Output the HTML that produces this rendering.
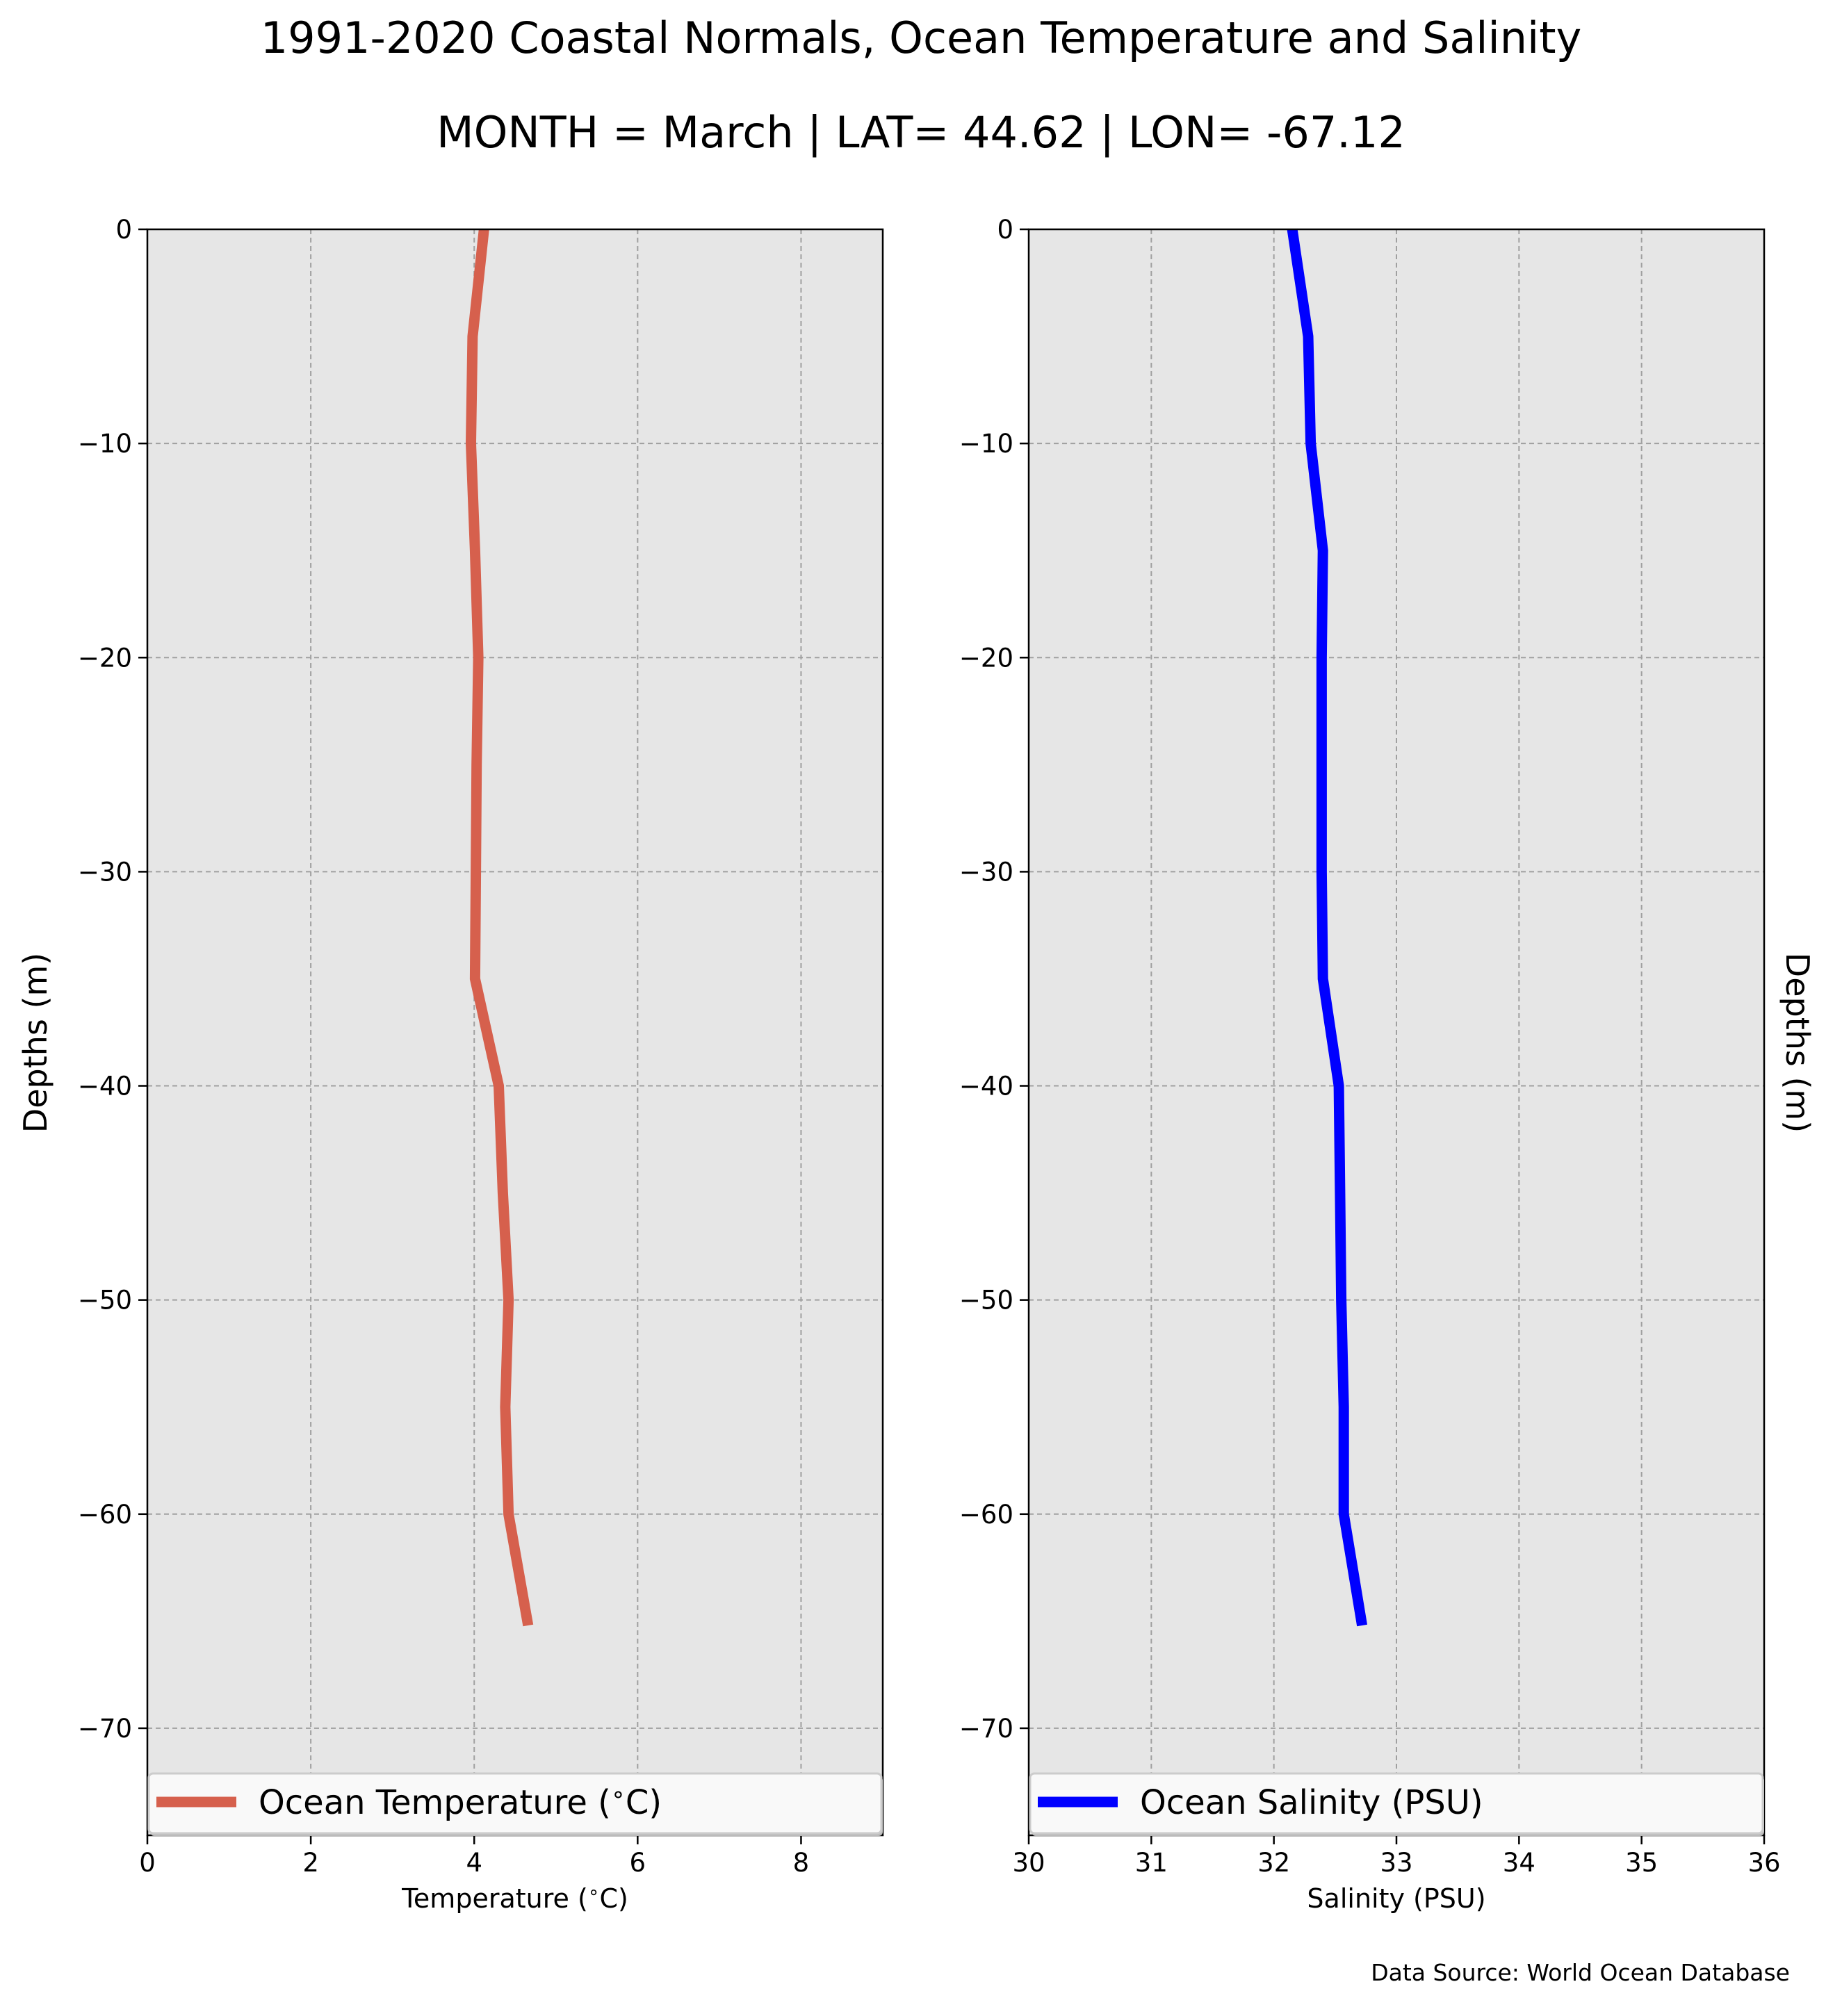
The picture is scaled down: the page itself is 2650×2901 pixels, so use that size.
<!DOCTYPE html>
<html><head><meta charset="utf-8"><style>
body{margin:0;background:#fff;}
svg{display:block;font-family:"DejaVu Sans","Liberation Sans",sans-serif;}
</style></head><body>
<svg id="fig" width="2650" height="2901" viewBox="0 0 2650 2901" xmlns="http://www.w3.org/2000/svg">
<text x="1325" y="76" font-size="62" text-anchor="middle">1991-2020 Coastal Normals, Ocean Temperature and Salinity</text>
<text x="1325" y="212" font-size="62" text-anchor="middle">MONTH = March | LAT= 44.62 | LON= -67.12</text>
<text x="2575" y="2850" font-size="33" text-anchor="end">Data Source: World Ocean Database</text>
<g id="left"></g>
<g id="right"></g>
</svg>
<script>
const depths = [0,-5,-10,-15,-20,-25,-30,-35,-40,-45,-50,-55,-60,-65.2];
const temperature = [4.12,3.98,3.96,4.01,4.05,4.03,4.02,4.01,4.3,4.35,4.42,4.38,4.42,4.66];
const salinity = [32.15,32.28,32.3,32.4,32.39,32.39,32.39,32.4,32.53,32.54,32.55,32.57,32.57,32.72];
const yTicks = [0,-10,-20,-30,-40,-50,-60,-70];
const tempTicks = [0,2,4,6,8];
const salTicks = [30,31,32,33,34,35,36];

const NS="http://www.w3.org/2000/svg";
const TOP=330, BOT=2641, YMIN=-75, YMAX=0;
function mk(parent,tag,attrs,text){const e=document.createElementNS(NS,tag);for(const k in attrs)e.setAttribute(k,attrs[k]);if(text!==undefined)e.textContent=text;parent.appendChild(e);return e;}
function yS(v){return TOP+(YMAX-v)/(YMAX-YMIN)*(BOT-TOP);}
function degText(el,pre,fs){
  el.appendChild(document.createTextNode(pre));
  mk(el,'tspan',{'font-size':fs*0.7,dy:-fs*0.35},'\u2218');
  mk(el,'tspan',{dy:fs*0.35},'C)');
}

function panel(g,x0,x1,xmin,xmax,xTicks,xs,color,xlabelPre,legendPre,ylabelSide){
  const xS=v=>x0+(v-xmin)/(xmax-xmin)*(x1-x0);
  const bg=mk(g,'rect',{x:x0,y:TOP,width:x1-x0,height:BOT-TOP,fill:'#e6e6e6'});
  
  
  xTicks.forEach(t=>{
    const gl=mk(g,'line',{x1:xS(t),x2:xS(t),y1:TOP,y2:BOT,stroke:'#a0a0a0','stroke-width':2,'stroke-dasharray':'7,5'});
    
    
    const tk=mk(g,'line',{x1:xS(t),x2:xS(t),y1:BOT,y2:BOT+13,stroke:'#000','stroke-width':2.5});
    
    
    const tl=mk(g,'text',{x:xS(t),y:BOT+52,'font-size':37,'text-anchor':'middle'},String(t));
    
    
  });
  yTicks.forEach(t=>{
    const gl=mk(g,'line',{x1:x0,x2:x1,y1:yS(t),y2:yS(t),stroke:'#a0a0a0','stroke-width':2,'stroke-dasharray':'7,5'});
    
    
    const tk=mk(g,'line',{x1:x0-13,x2:x0,y1:yS(t),y2:yS(t),stroke:'#000','stroke-width':2.5});
    
    
    const tl=mk(g,'text',{x:x0-22,y:yS(t)+13,'font-size':37,'text-anchor':'end'},(t<0?'\u2212'+(-t):String(t)));
    
    
  });
  const pts=depths.map((d,i)=>xS(xs[i]).toFixed(1)+','+yS(d).toFixed(1)).join(' ');
  const line=mk(g,'polyline',{points:pts,fill:'none',stroke:color,'stroke-width':15,'stroke-linejoin':'miter'});
  
  
  const fr=mk(g,'rect',{x:x0,y:TOP,width:x1-x0,height:BOT-TOP,fill:'none',stroke:'#000','stroke-width':2.5});
  
  
  const lg=mk(g,'g',{});
  
  
  mk(lg,'rect',{x:x0+4,y:2556,width:x1-x0-4,height:86,rx:6,fill:'#bbbbbb'});
  mk(lg,'rect',{x:x0+2,y:2552,width:x1-x0-4,height:86,rx:6,fill:'#f9f9f9',stroke:'#cccccc','stroke-width':3});
  const ll=mk(lg,'line',{x1:x0+13,x2:x0+128,y1:2593,y2:2593,stroke:color,'stroke-width':15});
  
  
  const lt=mk(lg,'text',{x:x0+160,y:2610,'font-size':48});
  if(legendPre.indexOf('Temperature')>=0) degText(lt,legendPre,48); else lt.textContent=legendPre;
  
  
  const xl=mk(g,'text',{x:(x0+x1)/2,y:2745,'font-size':38,'text-anchor':'middle'});
  if(xlabelPre.indexOf('Temperature')>=0) degText(xl,xlabelPre,38); else xl.textContent=xlabelPre;
  
  
  const cy=(TOP+BOT)/2+15;
  let yl;
  if(ylabelSide==='left'){
    yl=mk(g,'text',{x:0,y:0,'font-size':46,'text-anchor':'middle',transform:`translate(67,${cy}) rotate(-90)`},'Depths (m)');
  } else {
    yl=mk(g,'text',{x:0,y:0,'font-size':46,'text-anchor':'middle',transform:`translate(2570,${cy}) rotate(90)`},'Depths (m)');
  }
  
  
}
panel(document.getElementById('left'),212,1270,0,9,tempTicks,temperature,'#d6604d','Temperature (','Ocean Temperature (','left');
panel(document.getElementById('right'),1480,2538,30,36,salTicks,salinity,'#0000ff','Salinity (PSU)','Ocean Salinity (PSU)','right');
</script>
</body></html>
